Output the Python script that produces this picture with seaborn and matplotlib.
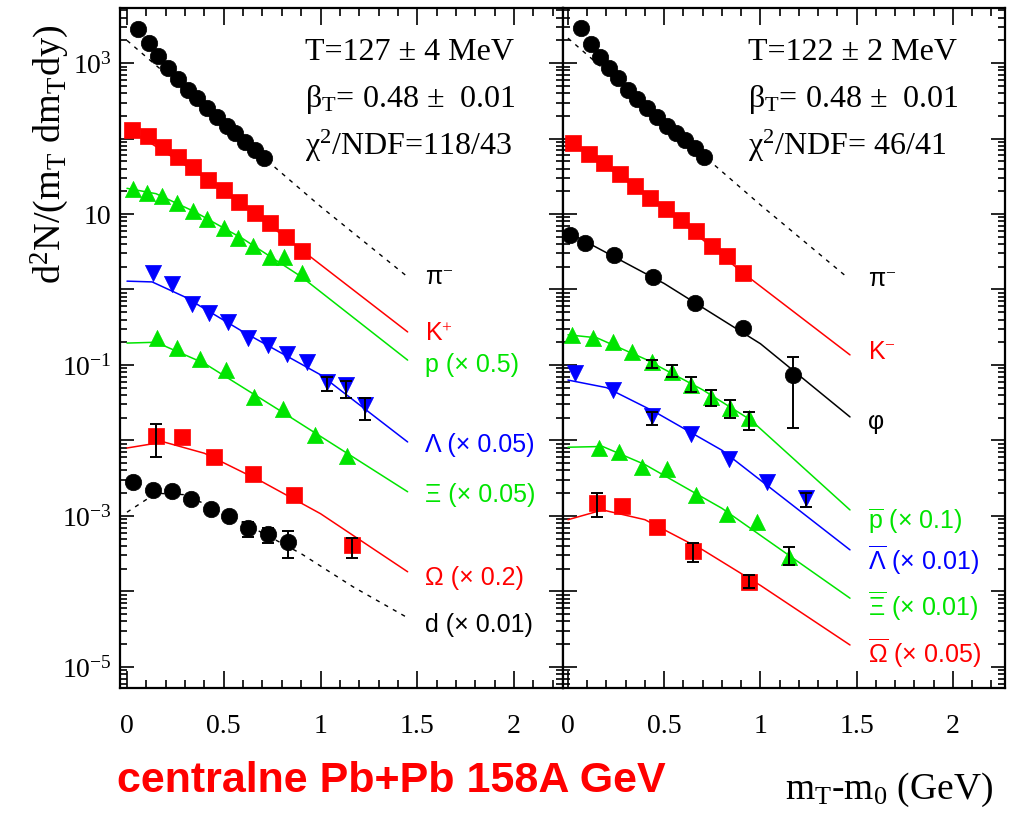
import numpy as np
import pandas as pd
import matplotlib
matplotlib.use("Agg")
import matplotlib.pyplot as plt
import seaborn as sns
from matplotlib.ticker import LogLocator, FuncFormatter, MultipleLocator, NullFormatter

# ---------------- left panel: Pb+Pb, positive / baryon side ----------------
pimL_x = [0.057, 0.114, 0.160, 0.212, 0.264, 0.315, 0.362, 0.413, 0.465, 0.517, 0.558, 0.610, 0.661, 0.708]
pimL_y = [2820, 1840, 1240, 859, 614, 439, 344, 254, 193, 147, 118, 89.9, 70.5, 55.2]
pimL_fx = [0.0, 1.0, 1.45]
pimL_fy = [1995, 12.6, 1.47]

kpL_x = [0.026, 0.109, 0.186, 0.264, 0.341, 0.419, 0.501, 0.579, 0.661, 0.739, 0.822, 0.904]
kpL_y = [130, 108, 77.1, 56.9, 42.0, 28.2, 20.8, 14.4, 10.3, 7.60, 4.95, 3.24]
kpL_fx = [0.0, 0.5, 0.904, 1.45]
kpL_fy = [138, 20.9, 3.31, 0.274]

pL_x = [0.031, 0.103, 0.181, 0.258, 0.341, 0.413, 0.501, 0.574, 0.651, 0.739, 0.811, 0.904]
pL_y = [21.4, 19.0, 17.3, 14.0, 11.0, 8.59, 6.53, 4.81, 3.77, 2.69, 2.69, 1.66]
pL_fx = [0.0, 0.15, 0.35, 0.6, 0.9, 1.45]
pL_fy = [21.9, 18.6, 10.7, 4.68, 1.48, 0.116]

lamL_x = [0.134, 0.233, 0.336, 0.424, 0.522, 0.625, 0.729, 0.827, 0.930, 1.034, 1.132, 1.230]
lamL_y = [1.66, 1.18, 0.643, 0.489, 0.372, 0.228, 0.184, 0.140, 0.110, 0.0600, 0.0543, 0.0295]
lamL_eidx = [9, 10, 11]
lamL_elo = [0.0453, 0.0363, 0.0187]
lamL_ehi = [0.0693, 0.0617, 0.0366]
lamL_fx = [0.0, 0.13, 0.3, 0.6, 1.0, 1.45]
lamL_fy = [1.29, 1.26, 0.794, 0.275, 0.0741, 0.00955]

xiL_x = [0.155, 0.258, 0.377, 0.512, 0.656, 0.806, 0.972, 1.137]
xiL_y = [0.228, 0.168, 0.120, 0.0859, 0.0377, 0.0261, 0.0118, 0.00624]
xiL_fx = [0.0, 0.15, 0.4, 0.8, 1.45]
xiL_fy = [0.195, 0.200, 0.105, 0.0240, 0.00209]

omL_x = [0.150, 0.284, 0.450, 0.651, 0.863, 1.163]
omL_y = [0.0115, 0.0111, 0.00604, 0.00360, 0.00190, 0.000413]
omL_eidx = [0, 5]
omL_elo = [0.00604, 0.000275]
omL_ehi = [0.0166, 0.000516]
omL_fx = [0.0, 0.19, 0.4, 0.7, 1.0, 1.45]
omL_fy = [0.00794, 0.00955, 0.00676, 0.00282, 0.00107, 0.000182]

dL_x = [0.031, 0.134, 0.233, 0.331, 0.434, 0.527, 0.625, 0.729, 0.832]
dL_y = [0.00282, 0.00221, 0.00214, 0.00168, 0.00124, 0.00100, 0.000693, 0.000578, 0.000453]
dL_eidx = [6, 7, 8]
dL_elo = [0.000527, 0.000438, 0.000278]
dL_ehi = [0.000834, 0.000693, 0.000632]
dL_fx = [0.0, 0.15, 0.3, 0.55, 0.9, 1.168, 1.45]
dL_fy = [0.00112, 0.00200, 0.00191, 0.000955, 0.000316, 0.000115, 4.47e-5]

# ---------------- right panel: negative / antibaryon side ----------------
pimR_x = [0.068, 0.119, 0.166, 0.213, 0.260, 0.312, 0.358, 0.410, 0.462, 0.514, 0.561, 0.608, 0.660, 0.706]
pimR_y = [2910, 1790, 1200, 859, 632, 439, 333, 254, 193, 147, 118, 95.5, 74.8, 56.9]
pimR_fx = [0.0, 1.0, 1.455]
pimR_fy = [2140, 13.2, 1.42]

kmR_x = [0.026, 0.109, 0.187, 0.270, 0.348, 0.426, 0.509, 0.587, 0.665, 0.748, 0.826, 0.909]
kmR_y = [87.1, 62.4, 47.3, 33.9, 23.5, 16.3, 11.6, 8.34, 5.96, 3.77, 2.78, 1.66]
kmR_fx = [0.0, 0.5, 0.909, 1.465]
kmR_fy = [97.7, 12.0, 1.66, 0.136]

phiR_x = [0.010, 0.088, 0.239, 0.442, 0.660, 0.909, 1.169]
phiR_y = [5.27, 4.13, 2.86, 1.47, 0.662, 0.309, 0.0738]
phiR_eidx = [6]
phiR_elo = [0.0147]
phiR_ehi = [0.128]
phiR_fx = [0.0, 0.5, 1.0, 1.465]
phiR_fy = [5.75, 1.20, 0.191, 0.0205]

pbR_x = [0.021, 0.130, 0.234, 0.332, 0.436, 0.540, 0.639, 0.743, 0.842, 0.940]
pbR_y = [0.249, 0.228, 0.202, 0.149, 0.110, 0.0807, 0.0543, 0.0377, 0.0269, 0.0199]
pbR_eidx = [4, 5, 6, 7, 8, 9]
pbR_elo = [0.0912, 0.0693, 0.0439, 0.0286, 0.0199, 0.0138]
pbR_ehi = [0.116, 0.100, 0.0693, 0.0467, 0.0344, 0.0238]
pbR_fx = [0.0, 0.15, 0.4, 0.7, 0.95, 1.465]
pbR_fy = [0.251, 0.229, 0.120, 0.0468, 0.0186, 0.00120]

lbR_x = [0.036, 0.234, 0.436, 0.639, 0.836, 1.034, 1.236]
lbR_y = [0.0783, 0.0467, 0.0211, 0.0122, 0.00569, 0.00282, 0.00173]
lbR_eidx = [2, 6]
lbR_elo = [0.0160, 0.00132]
lbR_ehi = [0.0238, 0.00202]
lbR_fx = [0.0, 0.2, 0.45, 0.8, 1.465]
lbR_fy = [0.0631, 0.0501, 0.0240, 0.00741, 0.000355]

xbR_x = [0.161, 0.265, 0.384, 0.514, 0.665, 0.826, 0.982, 1.148]
xbR_y = [0.00796, 0.00705, 0.00446, 0.00420, 0.00190, 0.00106, 0.000834, 0.000286]
xbR_eidx = [7]
xbR_elo = [0.000224]
xbR_ehi = [0.000388]
xbR_fx = [0.0, 0.18, 0.4, 0.8, 1.465]
xbR_fy = [0.00813, 0.00832, 0.00479, 0.00126, 8.13e-5]

obR_x = [0.151, 0.281, 0.462, 0.649, 0.940]
obR_y = [0.00149, 0.00136, 0.000714, 0.000344, 0.000134]
obR_eidx = [0, 3, 4]
obR_elo = [0.000970, 0.000246, 0.000112]
obR_ehi = [0.00202, 0.000438, 0.000166]
obR_fx = [0.0, 0.18, 0.4, 0.7, 1.0, 1.465]
obR_fy = [0.000891, 0.00120, 0.000891, 0.000355, 0.000120, 1.95e-5]

# ---------------- fit parameters ----------------
fit_text_left = ["T=127 ± 4 MeV", r"β$_\mathrm{T}$= 0.48 ±  0.01", r"χ$^{2}$/NDF=118/43"]
fit_text_right = ["T=122 ± 2 MeV", r"β$_\mathrm{T}$= 0.48 ±  0.01", r"χ$^{2}$/NDF= 46/41"]

RED, GREEN, BLUE, BLACK = "#ff0000", "#00e400", "#0000ff", "#000000"

sns.set_style("ticks")
plt.rcParams["font.family"] = ["Liberation Serif", "DejaVu Serif"]
plt.rcParams["text.color"] = "black"
plt.rcParams["axes.labelcolor"] = "black"
plt.rcParams["xtick.color"] = "black"
plt.rcParams["ytick.color"] = "black"
plt.rcParams["mathtext.fontset"] = "custom"
plt.rcParams["mathtext.rm"] = "Liberation Serif"
plt.rcParams["mathtext.it"] = "Liberation Serif:italic"
plt.rcParams["mathtext.sf"] = "Liberation Sans"
plt.rcParams["mathtext.bf"] = "Liberation Serif:bold"

fig = plt.figure(figsize=(10.18, 8.14), dpi=100)
axL = fig.add_axes([0.1179, 0.1548, 0.4352, 0.8354])
axR = fig.add_axes([0.5530, 0.1548, 0.4342, 0.8354])

MSIZE = {"o": 140, "s": 140, "^": 135, "v": 135}


def draw(ax, x, y, fx, fy, marker, color, dashed=False, eidx=None, elo=None, ehi=None):
    fit = pd.DataFrame({"x": fx, "y": fy})
    if dashed:
        sns.lineplot(data=fit, x="x", y="y", ax=ax, color=color, lw=1.0,
                     linestyle=(0, (3, 4)), sort=False, estimator=None, zorder=2)
    else:
        sns.lineplot(data=fit, x="x", y="y", ax=ax, color=color, lw=1.1,
                     sort=False, estimator=None, zorder=2)
    pts = pd.DataFrame({"x": x, "y": y})
    sns.scatterplot(data=pts, x="x", y="y", ax=ax, marker=marker, color=color,
                    s=MSIZE[marker], edgecolor=color, linewidth=0.5, zorder=3)
    if eidx:
        ex = np.array(x)[eidx]
        ey = np.array(y)[eidx]
        lo = ey - np.array(elo)
        hi = np.array(ehi) - ey
        ax.errorbar(ex, ey, yerr=[lo, hi], fmt="none", ecolor="black",
                    elinewidth=1.4, capsize=4.5, capthick=1.4, zorder=4)


draw(axL, pimL_x, pimL_y, pimL_fx, pimL_fy, "o", BLACK, dashed=True)
draw(axL, kpL_x, kpL_y, kpL_fx, kpL_fy, "s", RED)
draw(axL, pL_x, pL_y, pL_fx, pL_fy, "^", GREEN)
draw(axL, lamL_x, lamL_y, lamL_fx, lamL_fy, "v", BLUE, eidx=lamL_eidx, elo=lamL_elo, ehi=lamL_ehi)
draw(axL, xiL_x, xiL_y, xiL_fx, xiL_fy, "^", GREEN)
draw(axL, omL_x, omL_y, omL_fx, omL_fy, "s", RED, eidx=omL_eidx, elo=omL_elo, ehi=omL_ehi)
draw(axL, dL_x, dL_y, dL_fx, dL_fy, "o", BLACK, dashed=True, eidx=dL_eidx, elo=dL_elo, ehi=dL_ehi)

draw(axR, pimR_x, pimR_y, pimR_fx, pimR_fy, "o", BLACK, dashed=True)
draw(axR, kmR_x, kmR_y, kmR_fx, kmR_fy, "s", RED)
draw(axR, phiR_x, phiR_y, phiR_fx, phiR_fy, "o", BLACK, eidx=phiR_eidx, elo=phiR_elo, ehi=phiR_ehi)
draw(axR, pbR_x, pbR_y, pbR_fx, pbR_fy, "^", GREEN, eidx=pbR_eidx, elo=pbR_elo, ehi=pbR_ehi)
draw(axR, lbR_x, lbR_y, lbR_fx, lbR_fy, "v", BLUE, eidx=lbR_eidx, elo=lbR_elo, ehi=lbR_ehi)
draw(axR, xbR_x, xbR_y, xbR_fx, xbR_fy, "^", GREEN, eidx=xbR_eidx, elo=xbR_elo, ehi=xbR_ehi)
draw(axR, obR_x, obR_y, obR_fx, obR_fy, "s", RED, eidx=obR_eidx, elo=obR_elo, ehi=obR_ehi)


def ylab(v, pos):
    e = int(round(np.log10(v)))
    if e % 2 == 0:
        return ""
    if e == 1:
        return "10"
    return r"$\mathregular{10^{%d}}$" % e


for ax, xl in ((axL, (-0.036, 2.253)), (axR, (-0.026, 2.270))):
    ax.set_yscale("log")
    ax.set_xlim(*xl)
    ax.set_ylim(5.25e-6, 5370)
    ax.set_xlabel("")
    ax.set_ylabel("")
    ax.xaxis.set_major_locator(MultipleLocator(0.5))
    ax.xaxis.set_minor_locator(MultipleLocator(0.1))
    ax.xaxis.set_major_formatter(FuncFormatter(lambda v, p: "0" if abs(v) < 1e-9 else ("%g" % v)))
    ax.yaxis.set_major_locator(LogLocator(base=10, numticks=20))
    ax.yaxis.set_minor_locator(LogLocator(base=10, subs=np.arange(2, 10), numticks=20))
    ax.yaxis.set_minor_formatter(NullFormatter())
    ax.yaxis.set_major_formatter(FuncFormatter(ylab))
    ax.tick_params(axis="both", which="both", direction="in", top=True, right=True,
                   colors="black", width=1.2)
    ax.tick_params(axis="x", which="major", length=12, pad=19, labelsize=20)
    ax.tick_params(axis="x", which="minor", length=6)
    ax.tick_params(axis="y", which="major", length=10, pad=6, labelsize=20)
    ax.tick_params(axis="y", which="minor", length=5)
    for sp in ax.spines.values():
        sp.set_visible(True)
        sp.set_linewidth(1.6)
        sp.set_color("black")

axR.tick_params(axis="y", which="both", labelleft=False)

# fit parameter boxes
for ax, lines in ((axL, fit_text_left), (axR, fit_text_right)):
    for i, t in enumerate(lines):
        ax.text(0.418, 0.934 - i * 0.0685, t, transform=ax.transAxes, fontsize=23,
                ha="left", va="center", color="black")

# species labels
LAB = dict(fontsize=18, family=["Liberation Sans", "DejaVu Sans"], ha="left", va="center")
left_labels = [("π$^{-}$", 1.42, BLACK), ("K$^{+}$", 0.255, RED), ("p (× 0.5)", 0.100, GREEN),
               ("Λ (× 0.05)", 0.0087, BLUE), ("Ξ (× 0.05)", 0.00190, GREEN),
               ("Ω (× 0.2)", 1.51e-4, RED), ("d (× 0.01)", 3.6e-5, BLACK)]
for t, yy, c in left_labels:
    axL.text(1.54, yy, t, color=c, **LAB)

right_labels = [("π$^{-}$", 1.34, BLACK), ("K$^{-}$", 0.149, RED), ("φ", 0.0176, BLACK),
                (r"$\overline{\mathsf{p}}$ (× 0.1)", 8.5e-4, GREEN),
                (r"$\overline{\mathsf{\Lambda}}$ (× 0.01)", 2.6e-4, BLUE),
                (r"$\overline{\mathsf{\Xi}}$ (× 0.01)", 6.4e-5, GREEN),
                (r"$\overline{\mathsf{\Omega}}$ (× 0.05)", 1.5e-5, RED)]
for t, yy, c in right_labels:
    axR.text(1.558, yy, t, color=c, **LAB)

fig.text(0.049, 0.810, r"d$^{2}$N/(m$_\mathrm{T}$ dm$_\mathrm{T}$dy)", rotation=90,
         fontsize=27.5, ha="center", va="center")
fig.text(0.873, 0.0295, r"m$_\mathrm{T}$-m$_\mathrm{0}$ (GeV)", fontsize=27,
         ha="center", va="center")
fig.text(0.115, 0.040, "centralne Pb+Pb 158A GeV", color=RED, fontsize=31,
         fontweight="bold", family=["Liberation Sans", "DejaVu Sans"], ha="left", va="center")

fig.savefig("out.png", dpi=100)
